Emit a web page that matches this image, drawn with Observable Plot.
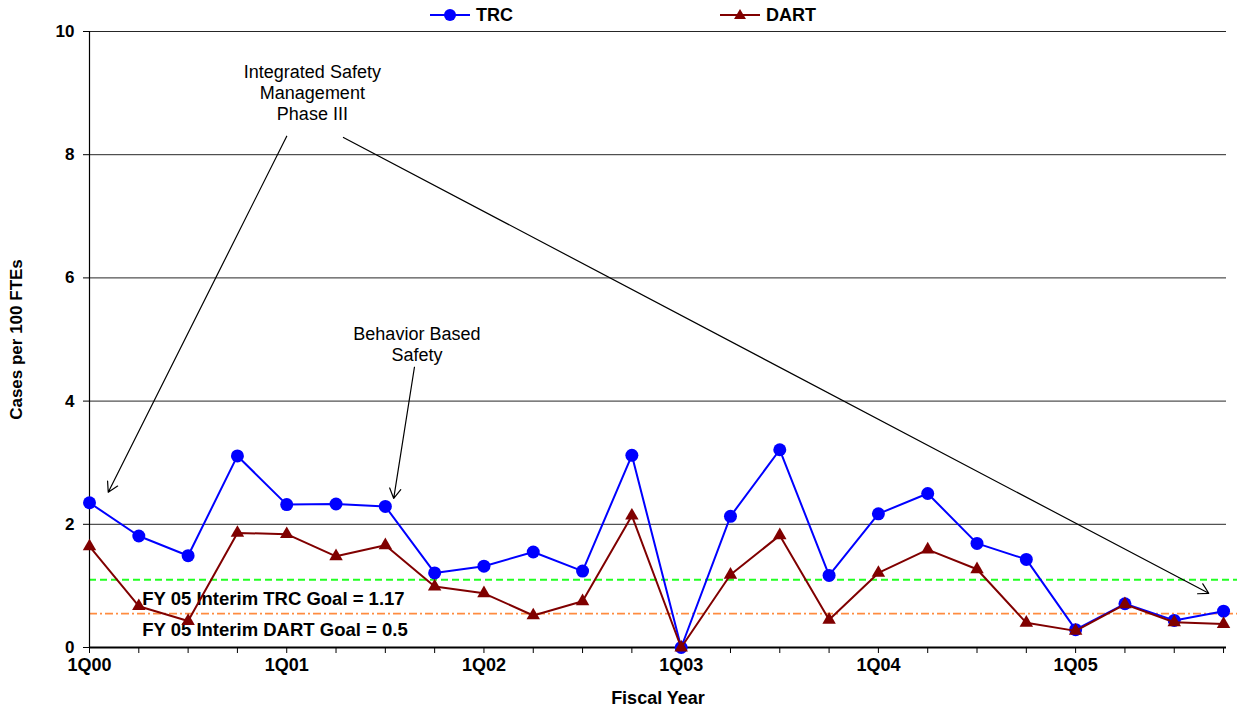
<!DOCTYPE html>
<html>
<head>
<meta charset="utf-8">
<script src="https://cdn.jsdelivr.net/npm/d3@7"></script>
<script src="https://cdn.jsdelivr.net/npm/@observablehq/plot@0.6"></script>
<style>
  html, body { margin: 0; padding: 0; background: #fff; }
  #wrap { position: relative; width: 1237px; height: 711px; font-family: "Liberation Sans", Arial, sans-serif; }
  #legend { position: absolute; top: 0; left: 0; width: 1237px; height: 30px; font-weight: bold; font-size: 18px; }
  .item { position: absolute; top: 4px; display: flex; align-items: center; height: 22px; }
  .item svg { margin-right: 4px; }
</style>
</head>
<body>
<div id="wrap">
  <div id="chart"></div>
  <div id="legend"></div>
</div>
<script>
// ---- data ----
const quarterLabels = [
  "1Q00","2Q00","3Q00","4Q00",
  "1Q01","2Q01","3Q01","4Q01",
  "1Q02","2Q02","3Q02","4Q02",
  "1Q03","2Q03","3Q03","4Q03",
  "1Q04","2Q04","3Q04","4Q04",
  "1Q05","2Q05","3Q05","4Q05"
];
const trcValues = [2.35,1.81,1.49,3.11,2.32,2.33,2.29,1.21,1.32,1.55,1.24,3.12,0.00,2.13,3.21,1.17,2.17,2.50,1.69,1.43,0.29,0.71,0.44,0.59];
const dartValues = [1.64,0.67,0.43,1.86,1.84,1.48,1.66,0.99,0.88,0.52,0.75,2.14,0.00,1.18,1.82,0.45,1.21,1.59,1.27,0.40,0.27,0.70,0.41,0.38];
const yTicks = [0, 2, 4, 6, 8, 10];
const goalNames = ["FY 05 Interim TRC Goal = 1.17", "FY 05 Interim DART Goal = 0.5"];
const goalLineValues = [1.10, 0.55];
const goalLabelValues = [0.78, 0.29];
const noteTexts = ["Integrated Safety\nManagement\nPhase III", "Behavior Based\nSafety"];
const noteX = [4.52, 6.64];
const noteY = [9.01, 4.93];
// arrows in data units (quarter index, cases)
const arrowFromX = [4.0, 5.15, 6.59];
const arrowFromY = [8.3, 8.28, 4.55];
const arrowToX = [0.38, 22.7, 6.17];
const arrowToY = [2.52, 0.88, 2.42];

// ---- tables ----
const rows = quarterLabels.map((q, i) => ({i, q, trc: trcValues[i], dart: dartValues[i]}));
const goals = goalNames.map((name, k) => ({name, line: goalLineValues[k], label: goalLabelValues[k]}));
const notes = noteTexts.map((t, k) => ({t, x: noteX[k], y: noteY[k]}));
const arrows = arrowFromX.map((_, k) => ({x1: arrowFromX[k], y1: arrowFromY[k], x2: arrowToX[k], y2: arrowToY[k]}));

const BLUE = "#0000ff", MAROON = "#800000";

const chart = Plot.plot({
  width: 1237,
  height: 711,
  marginLeft: 89,
  marginRight: 11,
  marginTop: 31,
  marginBottom: 64,
  style: {fontFamily: '"Liberation Sans", Arial, sans-serif', fontSize: "18px", fontWeight: "bold", background: "#fff", color: "#000", overflow: "visible"},
  x: {domain: [0, 23.06], axis: null},
  y: {domain: [0, 10], axis: null},
  marks: [
    Plot.gridY(yTicks, {stroke: "#000", strokeOpacity: 0.85, strokeWidth: 1}),
    Plot.ruleY([goals[0]], {y: "line", x1: 0, x2: 23.29, stroke: "#22ff22", strokeWidth: 2, strokeDasharray: "7,4"}),
    Plot.ruleY([goals[1]], {y: "line", x1: 0, x2: 23.29, stroke: "#ff8c40", strokeWidth: 1.8, strokeDasharray: "8,3,2,3"}),
    Plot.text(goals, {x: 1.07, y: "label", text: "name", textAnchor: "start", fontSize: 18.5, fontWeight: "bold", fill: "#000"}),
    Plot.axisY({ticks: yTicks, tickSize: 6, tickPadding: 9, fontSize: 17, label: "Cases per 100 FTEs", labelAnchor: "center", labelArrow: "none", labelOffset: 80}),
    Plot.axisX({ticks: d3.range(24), tickSize: 6, tickPadding: 5, fontSize: 18, tickFormat: i => i % 4 === 0 ? quarterLabels[i] : "", label: "Fiscal Year", labelAnchor: "center", labelArrow: "none", labelOffset: 56}),
    Plot.ruleX([0], {stroke: "#000", strokeWidth: 1.2}),
    Plot.ruleY([0], {stroke: "#000", strokeWidth: 2}),
    Plot.line(rows, {x: "i", y: "trc", stroke: BLUE, strokeWidth: 2}),
    Plot.dot(rows, {x: "i", y: "trc", r: 6.5, fill: BLUE, stroke: "none"}),
    Plot.line(rows, {x: "i", y: "dart", stroke: MAROON, strokeWidth: 2}),
    Plot.dot(rows, {x: "i", y: "dart", r: 5, symbol: "triangle", fill: MAROON, stroke: "none"}),
    Plot.arrow(arrows, {x1: "x1", y1: "y1", x2: "x2", y2: "y2", stroke: "#000", strokeWidth: 1.2, headLength: 14}),
    Plot.text(notes, {x: "x", y: "y", text: "t", fontSize: 18, fontWeight: "normal", lineHeight: 1.17, fill: "#000"})
  ]
});
document.getElementById("chart").appendChild(chart);

// ---- legend ----
const legend = document.getElementById("legend");
const items = [
  {name: "TRC", color: BLUE, symbol: "circle", left: 430},
  {name: "DART", color: MAROON, symbol: "triangle", left: 720}
];
for (const it of items) {
  const div = document.createElement("div");
  div.className = "item";
  div.style.left = it.left + "px";
  const mark = it.symbol === "circle"
    ? `<circle cx="20" cy="11" r="6" fill="${it.color}"/>`
    : `<path d="M20,5 L26,15 L14,15 Z" fill="${it.color}"/>`;
  div.innerHTML = `<svg width="42" height="22"><line x1="0" x2="40" y1="11" y2="11" stroke="${it.color}" stroke-width="2"/>${mark}</svg><span>${it.name}</span>`;
  legend.appendChild(div);
}
</script>
</body>
</html>
